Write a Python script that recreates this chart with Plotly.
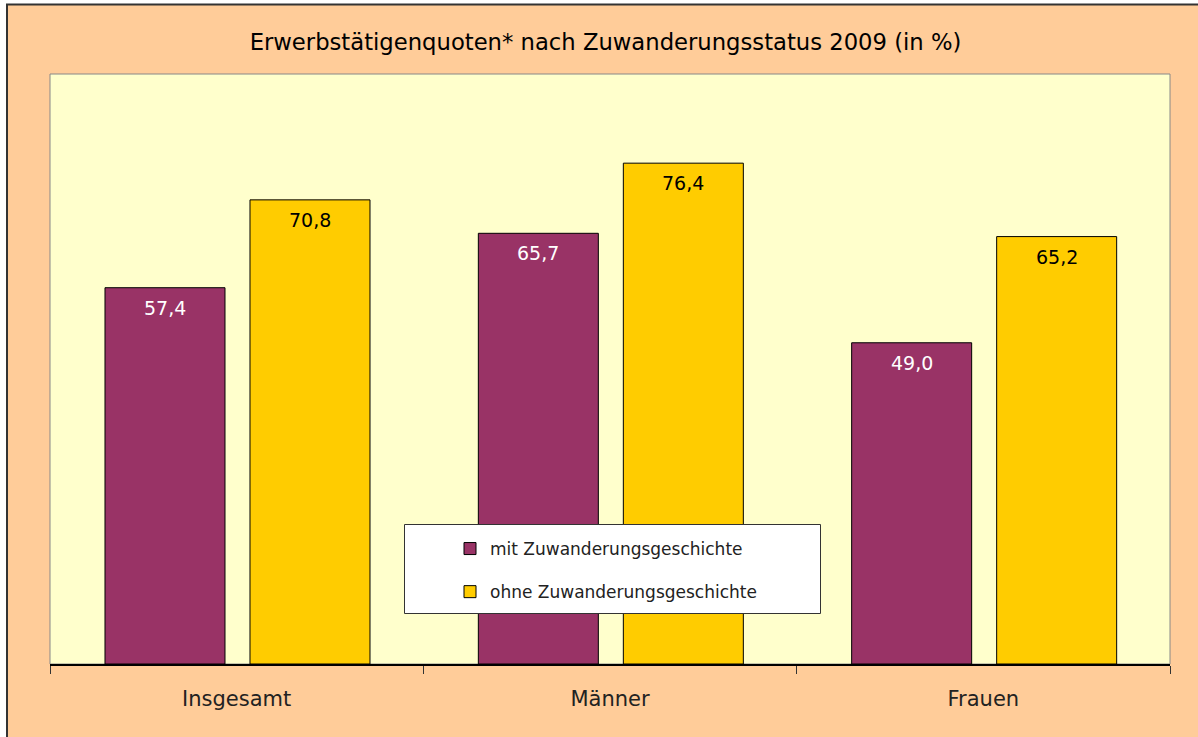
import plotly.graph_objects as go

categories = ["Insgesamt", "Männer", "Frauen"]
mit_values = [57.4, 65.7, 49.0]
ohne_values = [70.8, 76.4, 65.2]
series_names = ["mit Zuwanderungsgeschichte", "ohne Zuwanderungsgeschichte"]
title_text = "Erwerbstätigenquoten* nach Zuwanderungsstatus 2009 (in %)"

W, H = 1198, 737
ML, MR, MT, MB = 50, 28, 74, 73
PW = W - ML - MR
PH = H - MT - MB

FONT = "DejaVu Sans"
PURPLE = "#993366"
GOLD = "#FFCC00"

bar_w = 120 / (PW / 3)
off_mit = -0.3527
off_ohne = 0.0357

fig = go.Figure()
fig.add_trace(go.Bar(
    x=categories, y=mit_values, name=series_names[0],
    marker=dict(color=PURPLE, line=dict(color="#000000", width=1)),
    width=bar_w, offset=off_mit, legendgroup="a", hoverinfo="skip",
))
fig.add_trace(go.Bar(
    x=categories, y=ohne_values, name=series_names[1],
    marker=dict(color=GOLD, line=dict(color="#000000", width=1)),
    width=bar_w, offset=off_ohne, legendgroup="b", hoverinfo="skip",
))

def fmt(v):
    return f"{v:.1f}".replace(".", ",")

cat_px = PW / 3
annos = []
for i, c in enumerate(categories):
    annos.append(dict(x=c, y=mit_values[i], xref="x", yref="y", text=fmt(mit_values[i]),
                      showarrow=False, yanchor="middle", yshift=-20,
                      xshift=(off_mit + bar_w / 2) * cat_px,
                      font=dict(family=FONT, size=19, color="#FFFFFF")))
    annos.append(dict(x=c, y=ohne_values[i], xref="x", yref="y", text=fmt(ohne_values[i]),
                      showarrow=False, yanchor="middle", yshift=-20,
                      xshift=(off_ohne + bar_w / 2) * cat_px,
                      font=dict(family=FONT, size=19, color="#000000")))

# screen pixel -> paper coords
def px_x(p):
    return (p - ML) / PW

def px_y(p):
    return (H - MB - p) / PH

shapes = [
    # white page outside the chart frame
    dict(type="rect", xref="paper", yref="paper", x0=px_x(-20), x1=px_x(6.5),
         y0=px_y(800), y1=px_y(-20), line=dict(width=0), fillcolor="#FFFFFF", layer="above"),
    dict(type="rect", xref="paper", yref="paper", x0=px_x(-20), x1=px_x(1260),
         y0=px_y(4), y1=px_y(-20), line=dict(width=0), fillcolor="#FFFFFF", layer="above"),
    # chart frame
    dict(type="rect", xref="paper", yref="paper", x0=px_x(7), x1=px_x(1260),
         y0=px_y(800), y1=px_y(4.5), line=dict(color="#333333", width=2), layer="above"),
    # plot area border
    dict(type="rect", xref="paper", yref="paper", x0=0, x1=1, y0=0, y1=1,
         line=dict(color="#888888", width=1), layer="below"),
    # legend box
    dict(type="rect", xref="paper", yref="paper", x0=px_x(404.5), x1=px_x(820.5),
         y0=px_y(613.5), y1=px_y(524.5), line=dict(color="#333333", width=1),
         fillcolor="#FFFFFF", layer="above"),
]

fig.update_layout(
    width=W, height=H,
    margin=dict(l=ML, r=MR, t=MT, b=MB),
    paper_bgcolor="#FFCC99",
    plot_bgcolor="#FFFFCC",
    barmode="overlay",
    hovermode=False,
    font=dict(family=FONT, color="#222222"),
    title=dict(text=title_text, x=605.5 / W, xref="container", xanchor="center",
               y=1 - 42 / H, yref="container", yanchor="middle",
               font=dict(family=FONT, size=22.7, color="#000000")),
    showlegend=True,
    legend=dict(x=px_x(450), y=px_y(531), xanchor="left", yanchor="top",
                bgcolor="rgba(0,0,0,0)", borderwidth=0,
                font=dict(family=FONT, size=17, color="#222222"),
                tracegroupgap=18, traceorder="grouped"),
    xaxis=dict(showline=True, linecolor="#000000", linewidth=1.5,
               ticks="outside", tickson="boundaries", ticklen=8, tickcolor="#333333",
               tickfont=dict(family=FONT, size=21, color="#222222"),
               ticklabelstandoff=15, showgrid=False, zeroline=False),
    yaxis=dict(range=[0, 90], showticklabels=False, showgrid=False, zeroline=False,
               showline=False, ticks=""),
    shapes=shapes,
    annotations=annos,
)

fig.write_html(
    "out.html",
    config={"displayModeBar": False},
    post_script="document.body.style.margin='0';document.body.style.overflow='hidden';",
)
